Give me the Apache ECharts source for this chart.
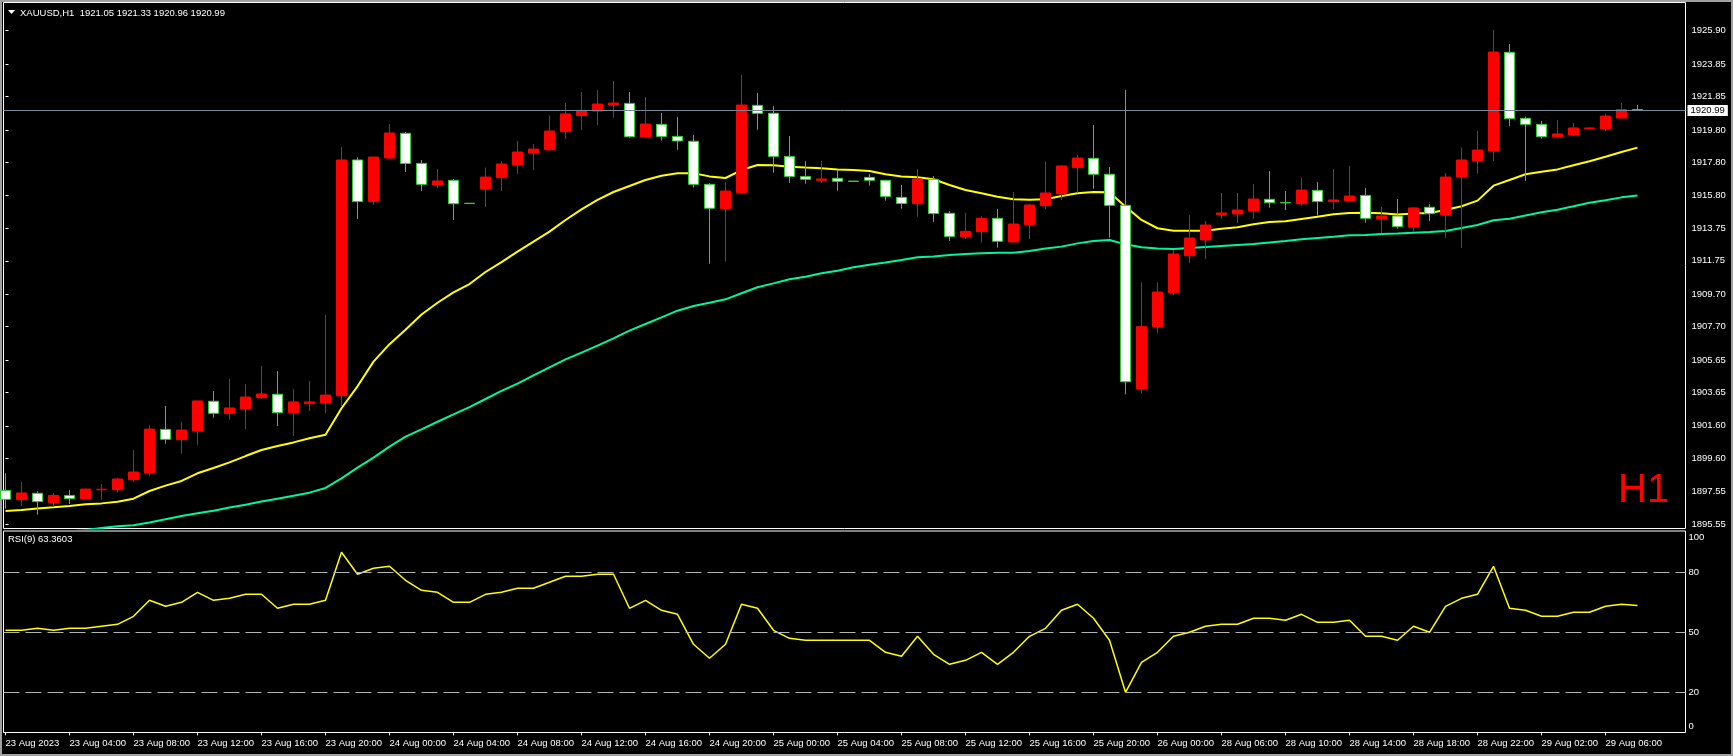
<!DOCTYPE html>
<html><head><meta charset="utf-8">
<script src="https://cdn.jsdelivr.net/npm/echarts@6/dist/echarts.min.js"></script>
<style>html,body{margin:0;padding:0;background:#000;overflow:hidden}#c{width:1733px;height:756px}</style>
</head><body><div id="c"></div>
<script>
const categories = [
'23 Aug 00:00','23 Aug 01:00','23 Aug 02:00','23 Aug 03:00','23 Aug 04:00','23 Aug 05:00','23 Aug 06:00','23 Aug 07:00','23 Aug 08:00','23 Aug 09:00','23 Aug 10:00','23 Aug 11:00',
'23 Aug 12:00','23 Aug 13:00','23 Aug 14:00','23 Aug 15:00','23 Aug 16:00','23 Aug 17:00','23 Aug 18:00','23 Aug 19:00','23 Aug 20:00','23 Aug 21:00','23 Aug 22:00','23 Aug 23:00',
'24 Aug 00:00','24 Aug 01:00','24 Aug 02:00','24 Aug 03:00','24 Aug 04:00','24 Aug 05:00','24 Aug 06:00','24 Aug 07:00','24 Aug 08:00','24 Aug 09:00','24 Aug 10:00','24 Aug 11:00',
'24 Aug 12:00','24 Aug 13:00','24 Aug 14:00','24 Aug 15:00','24 Aug 16:00','24 Aug 17:00','24 Aug 18:00','24 Aug 19:00','24 Aug 20:00','24 Aug 21:00','24 Aug 22:00','24 Aug 23:00',
'25 Aug 00:00','25 Aug 01:00','25 Aug 02:00','25 Aug 03:00','25 Aug 04:00','25 Aug 05:00','25 Aug 06:00','25 Aug 07:00','25 Aug 08:00','25 Aug 09:00','25 Aug 10:00','25 Aug 11:00',
'25 Aug 12:00','25 Aug 13:00','25 Aug 14:00','25 Aug 15:00','25 Aug 16:00','25 Aug 17:00','25 Aug 18:00','25 Aug 19:00','25 Aug 20:00','25 Aug 21:00','25 Aug 22:00','25 Aug 23:00',
'26 Aug 00:00','28 Aug 03:00','28 Aug 04:00','28 Aug 05:00',
'28 Aug 06:00','28 Aug 07:00','28 Aug 08:00','28 Aug 09:00','28 Aug 10:00','28 Aug 11:00','28 Aug 12:00','28 Aug 13:00','28 Aug 14:00','28 Aug 15:00','28 Aug 16:00','28 Aug 17:00',
'28 Aug 18:00','28 Aug 19:00','28 Aug 20:00','28 Aug 21:00','28 Aug 22:00','28 Aug 23:00',
'29 Aug 00:00','29 Aug 01:00','29 Aug 02:00','29 Aug 03:00','29 Aug 04:00','29 Aug 05:00','29 Aug 06:00','29 Aug 07:00','29 Aug 08:00'];

const openP = [1897.63,1897.06,1897.45,1896.87,1897.32,1897.12,1897.67,1897.67,1898.29,1898.70,
1901.38,1900.75,1901.28,1903.11,1902.35,1902.64,1903.33,1903.54,1902.41,1902.96,
1903.00,1903.45,1917.95,1915.39,1918.07,1919.59,1917.74,1916.41,1916.70,1915.29,
1916.16,1916.86,1917.64,1918.38,1918.58,1919.69,1920.68,1920.96,1921.33,1921.43,
1919.36,1920.14,1919.40,1919.10,1916.45,1914.96,1915.94,1921.31,1920.82,1918.17,
1916.94,1916.70,1916.82,1916.65,1916.88,1916.70,1915.65,1915.26,1916.76,1914.67,
1913.23,1913.54,1914.36,1912.91,1913.97,1915.14,1915.86,1917.48,1918.05,1917.07,
1915.16,1903.87,1907.70,1909.79,1912.06,1913.03,1914.59,1914.63,1914.81,1915.53,
1915.33,1915.26,1916.08,1915.39,1915.43,1915.77,1914.32,1914.50,1913.83,1915.04,
1914.56,1916.90,1917.89,1918.50,1924.57,1920.51,1920.14,1919.38,1919.49,1919.88,
1919.85,1920.53,1921.05];
const highP = [1898.68,1898.15,1897.59,1897.45,1897.65,1897.75,1898.02,1898.41,1900.11,1901.65,
1902.82,1901.84,1903.13,1903.74,1904.48,1904.17,1905.28,1904.97,1903.86,1904.36,
1908.42,1918.73,1918.11,1918.13,1920.16,1919.67,1917.95,1917.39,1916.78,1915.30,
1917.48,1917.88,1919.12,1918.93,1920.68,1921.45,1922.13,1922.25,1922.81,1922.13,
1921.82,1920.84,1920.59,1919.49,1916.53,1916.60,1923.18,1922.07,1921.27,1919.42,
1917.88,1917.88,1917.33,1916.66,1917.09,1916.72,1916.41,1917.39,1916.96,1914.81,
1914.69,1914.50,1914.94,1915.98,1915.24,1917.85,1917.62,1918.26,1920.10,1917.52,
1922.25,1910.42,1910.42,1912.41,1914.55,1914.20,1915.92,1915.92,1916.47,1917.27,
1916.04,1916.84,1916.59,1917.39,1917.58,1916.22,1915.06,1915.55,1915.02,1915.24,
1917.15,1918.71,1919.73,1925.94,1925.08,1920.61,1920.35,1920.41,1920.22,1919.93,
1920.78,1921.45,1921.33];
const lowP = [1896.50,1896.67,1896.14,1896.65,1896.79,1897.10,1897.06,1897.49,1898.16,1898.53,
1900.50,1899.89,1900.44,1902.10,1901.98,1901.40,1903.25,1901.59,1900.97,1902.51,
1902.39,1902.78,1914.32,1915.18,1918.01,1917.21,1916.04,1916.23,1914.26,1915.26,
1915.06,1916.04,1917.09,1917.33,1918.50,1919.24,1919.79,1920.10,1920.55,1919.32,
1919.32,1919.14,1918.58,1916.25,1911.57,1911.70,1915.88,1919.81,1917.17,1916.54,
1916.49,1916.54,1916.06,1916.62,1916.37,1915.45,1914.96,1914.46,1914.14,1912.97,
1913.09,1912.86,1912.56,1912.86,1913.09,1914.94,1915.49,1915.94,1916.19,1913.17,
1903.54,1903.59,1907.30,1909.62,1911.61,1911.86,1914.32,1914.07,1914.32,1915.02,
1914.87,1915.14,1914.52,1914.93,1915.43,1914.09,1913.44,1913.72,1913.52,1914.20,
1913.15,1912.54,1917.11,1917.89,1920.04,1916.66,1919.26,1919.30,1919.42,1919.87,
1919.73,1920.47,1920.96];
const closeP = [1897.08,1897.47,1896.94,1897.32,1897.12,1897.71,1897.70,1898.33,1898.76,1901.40,
1900.77,1901.34,1903.13,1902.37,1902.70,1903.37,1903.56,1902.41,1903.07,1903.07,
1903.49,1917.95,1915.39,1918.13,1919.61,1917.74,1916.45,1916.66,1915.26,1915.27,
1916.90,1917.70,1918.44,1918.62,1919.73,1920.78,1921.00,1921.39,1921.45,1919.38,
1920.16,1919.40,1919.12,1916.45,1914.98,1916.04,1921.33,1920.82,1918.17,1916.94,
1916.76,1916.78,1916.64,1916.63,1916.70,1915.71,1915.28,1916.78,1914.65,1913.25,
1913.56,1914.36,1912.95,1914.01,1915.18,1915.92,1917.58,1918.07,1917.07,1915.16,
1904.31,1907.70,1909.83,1912.17,1913.15,1913.95,1914.69,1914.87,1915.55,1915.32,
1915.31,1916.10,1915.39,1915.49,1915.73,1914.36,1914.50,1913.85,1915.00,1914.65,
1916.90,1917.95,1918.56,1924.59,1920.49,1920.14,1919.38,1919.55,1919.92,1919.92,
1920.65,1921.05,1920.99];
const maYellow = [1896.36,1896.42,1896.52,1896.59,1896.67,1896.77,1896.83,1896.93,1897.12,1897.59,
1897.92,1898.21,1898.68,1899.01,1899.35,1899.74,1900.11,1900.36,1900.58,1900.83,
1901.05,1902.68,1904.03,1905.55,1906.62,1907.51,1908.45,1909.17,1909.81,1910.32,
1911.06,1911.67,1912.31,1912.93,1913.54,1914.26,1914.91,1915.49,1915.98,1916.35,
1916.72,1916.98,1917.13,1917.13,1916.94,1916.84,1917.33,1917.64,1917.62,1917.54,
1917.48,1917.44,1917.37,1917.33,1917.27,1917.07,1916.94,1916.88,1916.76,1916.41,
1916.10,1915.90,1915.69,1915.53,1915.51,1915.53,1915.73,1915.90,1915.98,1915.96,
1915.08,1914.26,1913.75,1913.60,1913.60,1913.60,1913.72,1913.81,1913.99,1914.14,
1914.18,1914.32,1914.46,1914.61,1914.69,1914.71,1914.67,1914.59,1914.65,1914.69,
1914.87,1915.10,1915.45,1916.37,1916.72,1917.07,1917.23,1917.37,1917.62,1917.87,
1918.15,1918.44,1918.71];
const maGreen = [1894.70,1894.80,1894.90,1895.00,1895.10,1895.20,1895.32,1895.42,1895.48,1895.66,
1895.85,1896.05,1896.22,1896.38,1896.57,1896.75,1896.94,1897.12,1897.30,1897.49,
1897.78,1898.37,1899.03,1899.64,1900.32,1900.93,1901.38,1901.85,1902.30,1902.75,
1903.25,1903.75,1904.20,1904.70,1905.20,1905.69,1906.10,1906.53,1906.98,1907.45,
1907.86,1908.27,1908.68,1908.97,1909.17,1909.38,1909.75,1910.12,1910.36,1910.61,
1910.77,1910.98,1911.14,1911.35,1911.51,1911.65,1911.80,1911.96,1912.02,1912.11,
1912.17,1912.21,1912.25,1912.25,1912.35,1912.50,1912.62,1912.82,1912.97,1913.03,
1912.76,1912.58,1912.50,1912.47,1912.54,1912.60,1912.66,1912.72,1912.78,1912.88,
1912.97,1913.07,1913.15,1913.23,1913.32,1913.34,1913.40,1913.42,1913.48,1913.52,
1913.58,1913.77,1913.95,1914.24,1914.34,1914.54,1914.73,1914.89,1915.10,1915.32,
1915.47,1915.65,1915.76];
const rsi9 = [51,51,52,51,52,52,53,54,58,66,
63,65,70,66,67,69,69,62,64,64,
66,90,79,82,83,76,71,70,65,65,
69,70,72,72,75,78,78,79,79,62,
66,61,59,44,37,44,64,62,51,47,
46,46,46,46,46,40,38,48,39,34,
36,40,34,40,48,52,61,64,57,46,
20,35,40,48,50,53,54,54,57,57,
56,59,55,55,56,48,48,46,53,50,
63,67,69,83,62,61,58,58,60,60,
63,64,63.36];
const timeTickIndex = [0,4,8,12,16,20,24,28,32,36,40,44,48,52,56,60,64,68,72,76,80,84,88,92,96,100];
const priceTicks = [1925.90,1923.85,1921.85,1919.80,1917.80,1915.80,1913.75,1911.75,1909.70,1907.70,1905.65,1903.65,1901.60,1899.60,1897.55,1895.55];
const rsiTicks = [0,20,50,80,100];
const rsiLevels = [20,50,80];
const lastBid = 1920.99;
const titleText = 'XAUUSD,H1  1921.05 1921.33 1920.96 1920.99';
const rsiTitle = 'RSI(9) 63.3603';

const FONT = 'Liberation Sans, Arial, sans-serif';
const candles = openP.map((o, i) => [i, o, closeP[i], lowP[i], highP[i]]);
const tickLabel = v => { const i = Math.round(v); return i === 0 ? '23 Aug 2023' : categories[i]; };

const chart = echarts.init(document.getElementById('c'), null, {renderer: 'canvas'});
const xCommon = {type: 'value', min: -0.125, max: 105.0, splitLine: {show: false}};
chart.setOption({
  animation: false,
  backgroundColor: '#000000',
  grid: [
    {left: 3.5, top: 2.5, width: 1682, height: 526, show: true, borderColor: '#ffffff', borderWidth: 1, backgroundColor: 'transparent'},
    {left: 3.5, top: 531, width: 1682, height: 201.5, show: true, borderColor: '#ffffff', borderWidth: 1, backgroundColor: 'transparent'}
  ],
  xAxis: [
    Object.assign({gridIndex: 0, show: false}, xCommon),
    Object.assign({gridIndex: 1, axisLine: {show: false},
      axisTick: {show: true, customValues: timeTickIndex, length: 3, lineStyle: {color: '#ffffff'}},
      axisLabel: {show: true, customValues: timeTickIndex, formatter: tickLabel, color: '#ffffff', fontSize: 9.5, fontFamily: FONT, align: 'left', margin: 6}
    }, xCommon)
  ],
  yAxis: [
    {gridIndex: 0, type: 'value', position: 'right', min: 1895.285, max: 1927.634,
     splitLine: {show: false}, axisLine: {show: false},
     axisTick: {show: true, customValues: priceTicks, length: 3, lineStyle: {color: '#ffffff'}},
     axisLabel: {customValues: priceTicks, formatter: v => v.toFixed(2), color: '#ffffff', fontSize: 9.5, fontFamily: FONT, margin: 6}},
    {gridIndex: 1, type: 'value', position: 'right', min: -0.1, max: 100.65,
     splitLine: {show: false}, axisLine: {show: false}, axisTick: {show: false},
     axisLabel: {customValues: rsiTicks, color: '#ffffff', fontSize: 9.5, fontFamily: FONT, margin: 3,
       formatter: v => v === 100 ? '{t|100}' : (v === 0 ? '{b|0}' : String(v)),
       rich: {t: {padding: [10, 0, 0, 0], fontSize: 9.5, color: '#ffffff', fontFamily: FONT}, b: {padding: [0, 0, 12, 0], fontSize: 9.5, color: '#ffffff', fontFamily: FONT}}}}
  ],
  series: [
    {type: 'line', xAxisIndex: 0, yAxisIndex: 0, data: maGreen.map((v, i) => [i, v]), symbol: 'none', silent: true,
     lineStyle: {color: '#00f59c', width: 2}, z: 2},
    {type: 'line', xAxisIndex: 0, yAxisIndex: 0, data: maYellow.map((v, i) => [i, v]), symbol: 'none', silent: true,
     lineStyle: {color: '#ffff00', width: 2}, z: 2},
    {type: 'candlestick', xAxisIndex: 0, yAxisIndex: 0, data: candles, barWidth: 10, silent: true, z: 3,
     itemStyle: {color: '#ff0000', color0: '#ffffff', borderColor: '#ff0000', borderColor0: '#32cd32', borderWidth: 1},
     markLine: {symbol: 'none', silent: true, animation: false, data: [{yAxis: lastBid}],
       lineStyle: {color: '#778899', width: 1, type: 'solid'},
       label: {show: true, position: 'end', distance: 2, formatter: lastBid.toFixed(2), color: '#000000', backgroundColor: '#ffffff', padding: [1, 3, 0, 3], fontSize: 9.5, fontFamily: FONT}}},
    {type: 'line', xAxisIndex: 1, yAxisIndex: 1, data: rsi9.map((v, i) => [i, v]), symbol: 'none', silent: true,
     lineStyle: {color: '#ffff00', width: 1.5},
     markLine: {symbol: 'none', silent: true, animation: false, data: rsiLevels.map(v => ({yAxis: v})),
       lineStyle: {color: '#b4b4b4', width: 1, type: [16, 6]}, label: {show: false}}}
  ],
  graphic: [
    {type: 'rect', shape: {x: 1, y: 1, width: 1731, height: 754}, style: {fill: 'none', stroke: '#a0a0a0', lineWidth: 2}, silent: true},
    {type: 'polygon', shape: {points: [[8, 10], [15, 10], [11.5, 14]]}, style: {fill: '#ffffff'}, silent: true},
    {type: 'text', x: 20, y: 13, style: {text: titleText, fill: '#ffffff', fontSize: 9.5, fontFamily: FONT, verticalAlign: 'middle'}, silent: true},
    {type: 'text', x: 8, y: 539, style: {text: rsiTitle, fill: '#ffffff', fontSize: 9.5, fontFamily: FONT, verticalAlign: 'middle'}, silent: true},
    {type: 'text', x: 1618, y: 491, style: {text: 'H1', fill: '#ff0000', fontSize: 40, fontFamily: FONT, verticalAlign: 'middle'}, silent: true}
  ]
});
</script></body></html>
